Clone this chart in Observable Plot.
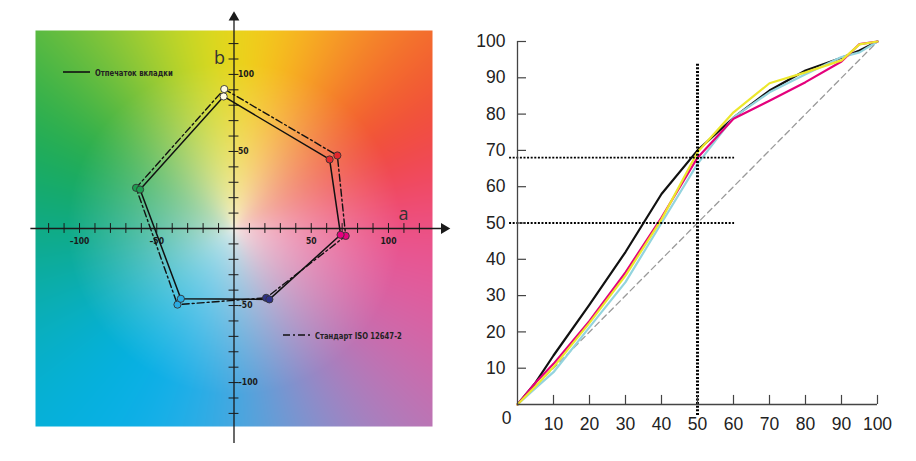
<!DOCTYPE html>
<html>
<head>
<meta charset="utf-8">
<script src="https://cdn.jsdelivr.net/npm/d3@7"></script>
<script src="https://cdn.jsdelivr.net/npm/@observablehq/plot@0.6"></script>
<style>
  html, body { margin: 0; padding: 0; background: #fff; }
  #wrap { position: relative; width: 916px; height: 461px; overflow: hidden; background: #fff; }
  #left, #right { position: absolute; top: 0; }
  #left { left: 0; }
  #right { left: 460px; }
  .lg { position: absolute; display: flex; align-items: center; gap: 5px; white-space: nowrap;
        font: bold 9.5px "DejaVu Sans Condensed", "DejaVu Sans", sans-serif; color: #222; }
  .lg span { display: inline-block; transform: scaleX(0.8); transform-origin: left center; }
  .lg svg { display: block; }
</style>
</head>
<body>
<div id="wrap">
  <div id="left"></div>
  <div id="right"></div>
  <div class="lg" style="left:63px; top:66px;">
    <svg width="27" height="12"><line x1="0" x2="27" y1="6" y2="6" stroke="#111" stroke-width="1.6"/></svg>
    <span>Отпечаток вкладки</span>
  </div>
  <div class="lg" style="left:283px; top:329px;">
    <svg width="27" height="12"><line x1="0" x2="27" y1="6" y2="6" stroke="#111" stroke-width="1.6" stroke-dasharray="7,3,2,3"/></svg>
    <span>Стандарт ISO 12647-2</span>
  </div>
</div>
<script>
// ---------- a*b* gamut diagram ----------
const patchNames = ["Y", "R", "M", "B", "C", "G"];
const patchFill = ["#fffbe6", "#e3262d", "#e6007e", "#2d3188", "#2aace2", "#1c9e50"];
const printA = [-6.7, 61.9, 69.0, 22.9, -34.4, -60.8];
const printB = [85.7, 44.8, -4.1, -46.0, -45.6, 25.3];
const isoA = [-6.3, 66.9, 72.3, 20.8, -36.6, -63.4];
const isoB = [90.5, 47.4, -4.8, -45.0, -49.4, 26.4];

const abTicks = d3.range(-120, 121, 10).filter(d => d !== 0);
const abLabels = [-100, -50, 50, 100];

// hue ring for the colour-field backdrop, evenly spaced (every 30°) from +a counter-clockwise
const hueColors = ["#f0508f", "#f0402f", "#f6962a", "#f8e612", "#92c83a", "#1fab48",
                   "#0ea984", "#09b0c8", "#00b0ec", "#40ade4", "#a285c3", "#d764a6"];
const centerColor = "#f5f0e6";
const hueRing = d3.interpolateRgbBasisClosed(hueColors);

function backdrop(a, b) {
  let ang = Math.atan2(b, a) / (2 * Math.PI);
  if (ang < 0) ang += 1;
  const hue = hueRing(ang);
  const t = Math.pow(Math.min(1, Math.hypot(a, b) / 108), 0.6);
  return d3.interpolateRgb(centerColor, hue)(t);
}

const printPts = patchNames.map((p, i) => ({p, a: printA[i], b: printB[i], fill: patchFill[i]}));
const isoPts = patchNames.map((p, i) => ({p, a: isoA[i], b: isoB[i], fill: patchFill[i]}));

const lim = 128.5;
const smallFont = {fontFamily: "'DejaVu Sans Condensed', 'DejaVu Sans', sans-serif", fontWeight: "bold", fontSize: 8.5};

const left = Plot.plot({
  width: 460, height: 461,
  marginLeft: 35, marginRight: 28, marginTop: 30, marginBottom: 35,
  x: {domain: [-lim, lim], axis: null},
  y: {domain: [-lim, lim], axis: null},
  color: {type: "identity"},
  style: {background: "transparent", overflow: "visible"},
  marks: [
    Plot.raster({x1: -lim, x2: lim, y1: -lim, y2: lim, pixelSize: 1, fill: backdrop}),
    // axes with arrowheads
    Plot.ruleY([0], {x1: -131.5, x2: 136, stroke: "#1a1a1a", strokeWidth: 1.3}),
    Plot.ruleX([0], {y1: -139.5, y2: 137, stroke: "#1a1a1a", strokeWidth: 1.3}),
    Plot.dot([0], {x: 136, y: 0, symbol: "triangle", rotate: 90, r: 4, fill: "#1a1a1a"}),
    Plot.dot([0], {x: 0, y: 137, symbol: "triangle", r: 4, fill: "#1a1a1a"}),
    Plot.ruleX(abTicks, {x: d => d, y1: -3.2, y2: 3.2, stroke: "#1a1a1a", strokeWidth: 1}),
    Plot.ruleY(abTicks, {y: d => d, x1: -3.2, x2: 3.2, stroke: "#1a1a1a", strokeWidth: 1}),
    Plot.text(abLabels, {x: d => d, y: 0, dy: 13, text: d => String(d).replace("-", "–"), fill: "#1a1a1a", ...smallFont}),
    Plot.text(abLabels, {x: 0, y: d => d, dx: 4, textAnchor: "start", text: d => String(d).replace("-", "–"), fill: "#1a1a1a", ...smallFont}),
    Plot.text(["b"], {frameAnchor: "top-left", dx: 184, dy: 28, textAnchor: "middle", lineAnchor: "middle", fontSize: 18, fill: "#333", fontFamily: "'Open Sans', sans-serif"}),
    Plot.text(["a"], {frameAnchor: "top-left", dx: 368, dy: 184, textAnchor: "middle", lineAnchor: "middle", fontSize: 18, fill: "#333", fontFamily: "'Open Sans', sans-serif"}),
    // polygons
    Plot.line(isoPts, {x: "a", y: "b", curve: "linear-closed", stroke: "#111", strokeWidth: 1.4, strokeDasharray: "7,3,2,3"}),
    Plot.line(printPts, {x: "a", y: "b", curve: "linear-closed", stroke: "#111", strokeWidth: 1.5}),
    Plot.dot(isoPts, {x: "a", y: "b", r: 3.6, fill: "fill", stroke: "#333", strokeWidth: 0.9}),
    Plot.dot(printPts, {x: "a", y: "b", r: 3.6, fill: "fill", stroke: "#333", strokeWidth: 0.9})
  ]
});
document.getElementById("left").appendChild(left);

// ---------- tone value increase curves ----------
const tv = [0, 5, 10, 20, 30, 40, 50, 60, 70, 80, 90, 95, 100];
const blackTV = [0, 6, 13.5, 27.5, 42, 58, 70, 79, 86.5, 92, 95.5, 97.5, 100];
const cyanTV = [0, 4.5, 8.9, 21.3, 33.7, 50, 66.3, 79.1, 86, 91, 95.7, 97, 100];
const magentaTV = [0, 6, 11.2, 23, 36.4, 51.5, 68, 78.7, 83.7, 88.8, 94.5, 99.3, 100];
const yellowTV = [0, 5, 10.3, 22.5, 35.5, 51, 69.5, 80.5, 88.5, 91.5, 94.8, 99.2, 100];

const curves = [
  {name: "K", values: blackTV, color: "#111111"},
  {name: "C", values: cyanTV, color: "#93d4de"},
  {name: "M", values: magentaTV, color: "#e4007c"},
  {name: "Y", values: yellowTV, color: "#ece72c"}
];
const curveRows = curves.flatMap(c => tv.map((x, i) => ({name: c.name, x, y: c.values[i], color: c.color})));

const ticks100 = d3.range(10, 101, 10);
const refX = 50;
const refY = [68, 50];
const labelFont = {fontFamily: "'Liberation Sans', Arial, sans-serif", fontSize: 17.5, fill: "#222"};

const right = Plot.plot({
  width: 456, height: 461,
  marginLeft: 57, marginRight: 39, marginTop: 41, marginBottom: 57,
  x: {domain: [0, 100], axis: null},
  y: {domain: [0, 100], axis: null},
  color: {type: "identity"},
  style: {background: "transparent", overflow: "visible"},
  marks: [
    Plot.line([0, 100], {x: d => d, y: d => d, stroke: "#9a9a9a", strokeWidth: 1.3, strokeDasharray: "6,4"}),
    Plot.line(curveRows, {x: "x", y: "y", z: "name", stroke: "color", strokeWidth: 2.2}),
    Plot.ruleX([refX], {y1: -3, y2: 94, stroke: "#000", strokeWidth: 3, strokeDasharray: "2,1.6"}),
    Plot.ruleY(refY, {y: d => d, x1: -2.2, x2: 60.3, stroke: "#000", strokeWidth: 1.8, strokeDasharray: "2,1.6"}),
    Plot.ruleX([0], {y1: 0, y2: 100, stroke: "#444", strokeWidth: 1.3}),
    Plot.ruleY([0], {x1: 0, x2: 100, stroke: "#444", strokeWidth: 1.3}),
    Plot.ruleY(ticks100, {y: d => d, x1: 0, x2: 2.5, stroke: "#444", strokeWidth: 1.2}),
    Plot.ruleX(ticks100, {x: d => d, y1: 0, y2: 2.5, stroke: "#444", strokeWidth: 1.2}),
    Plot.text(ticks100, {x: 0, y: d => d, dx: -12, textAnchor: "end", text: d => d, ...labelFont}),
    Plot.text(ticks100, {x: d => d, y: 0, dy: 20, text: d => d, ...labelFont}),
    Plot.text([0], {x: 0, y: 0, dx: -11, dy: 14, text: d => d, ...labelFont})
  ]
});
document.getElementById("right").appendChild(right);
</script>
</body>
</html>
